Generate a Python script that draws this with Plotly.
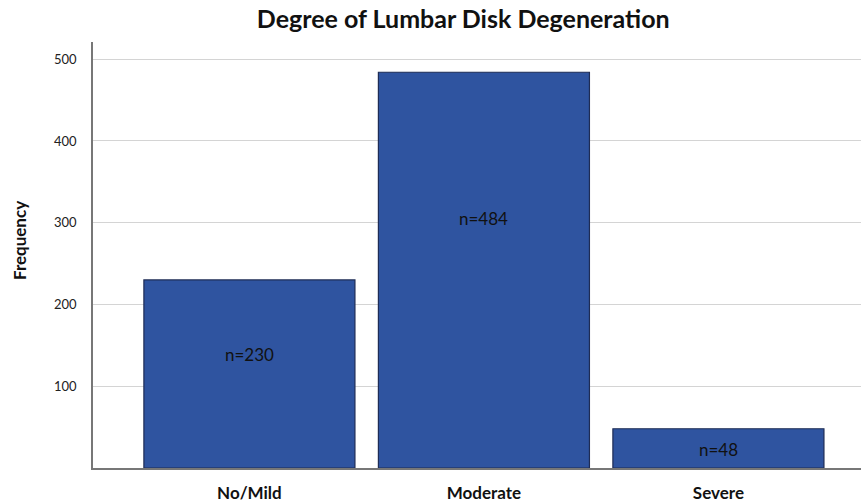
import plotly.graph_objects as go

categories = ["No/Mild", "Moderate", "Severe"]
frequencies = [230, 484, 48]
bar_labels = ["n=230", "n=484", "n=48"]
label_heights = [139, 305, 23]  # where each label sits, in data units
y_ticks = [100, 200, 300, 400, 500]

fig = go.Figure()
fig.add_trace(go.Bar(
    x=categories, y=frequencies, width=0.9,
    marker=dict(color="#2f54a0", line=dict(color="#1e2c55", width=1.2)),
    hoverinfo="x+y",
))
for c, lab, h in zip(categories, bar_labels, label_heights):
    fig.add_annotation(x=c, y=h, text=lab, showarrow=False,
                       font=dict(family="Lato", size=17, color="#111111"))

# y-axis title, placed as a rotated annotation
fig.add_annotation(xref="paper", yref="paper", x=-0.0964, y=0.535, text="<b>Frequency</b>",
                   textangle=-90, showarrow=False, xanchor="center", yanchor="middle",
                   font=dict(family="Lato", size=17, color="#111111"))

fig.update_layout(
    width=861, height=503,
    margin=dict(l=93, r=0, t=42, b=35, autoexpand=False),
    paper_bgcolor="white", plot_bgcolor="white",
    title=dict(text="<b>Degree of Lumbar Disk Degeneration</b>", x=0.538, xanchor="center",
               y=0.962, yanchor="middle",
               font=dict(family="Lato", size=25, color="#111111")),
    showlegend=False,
    xaxis=dict(range=[-0.667, 2.608], showline=True, linecolor="#777777", linewidth=1.5,
               ticks="", tickfont=dict(family="Lato", size=17, color="#111111"),
               tickprefix="<b>", ticksuffix="</b>", showgrid=False,
               ticklabelstandoff=9, automargin=False),
    yaxis=dict(range=[0, 521], tickvals=y_ticks, showline=True, linecolor="#777777",
               linewidth=1.5, gridcolor="#d4d4d4", gridwidth=1.3, zeroline=False,
               ticks="", tickfont=dict(family="Lato", size=13, color="#222222"),
               ticklabelstandoff=12, automargin=False),
)

fig.write_html("out.html", config={"displayModeBar": False},
               post_script="document.body.style.margin='0px';")
